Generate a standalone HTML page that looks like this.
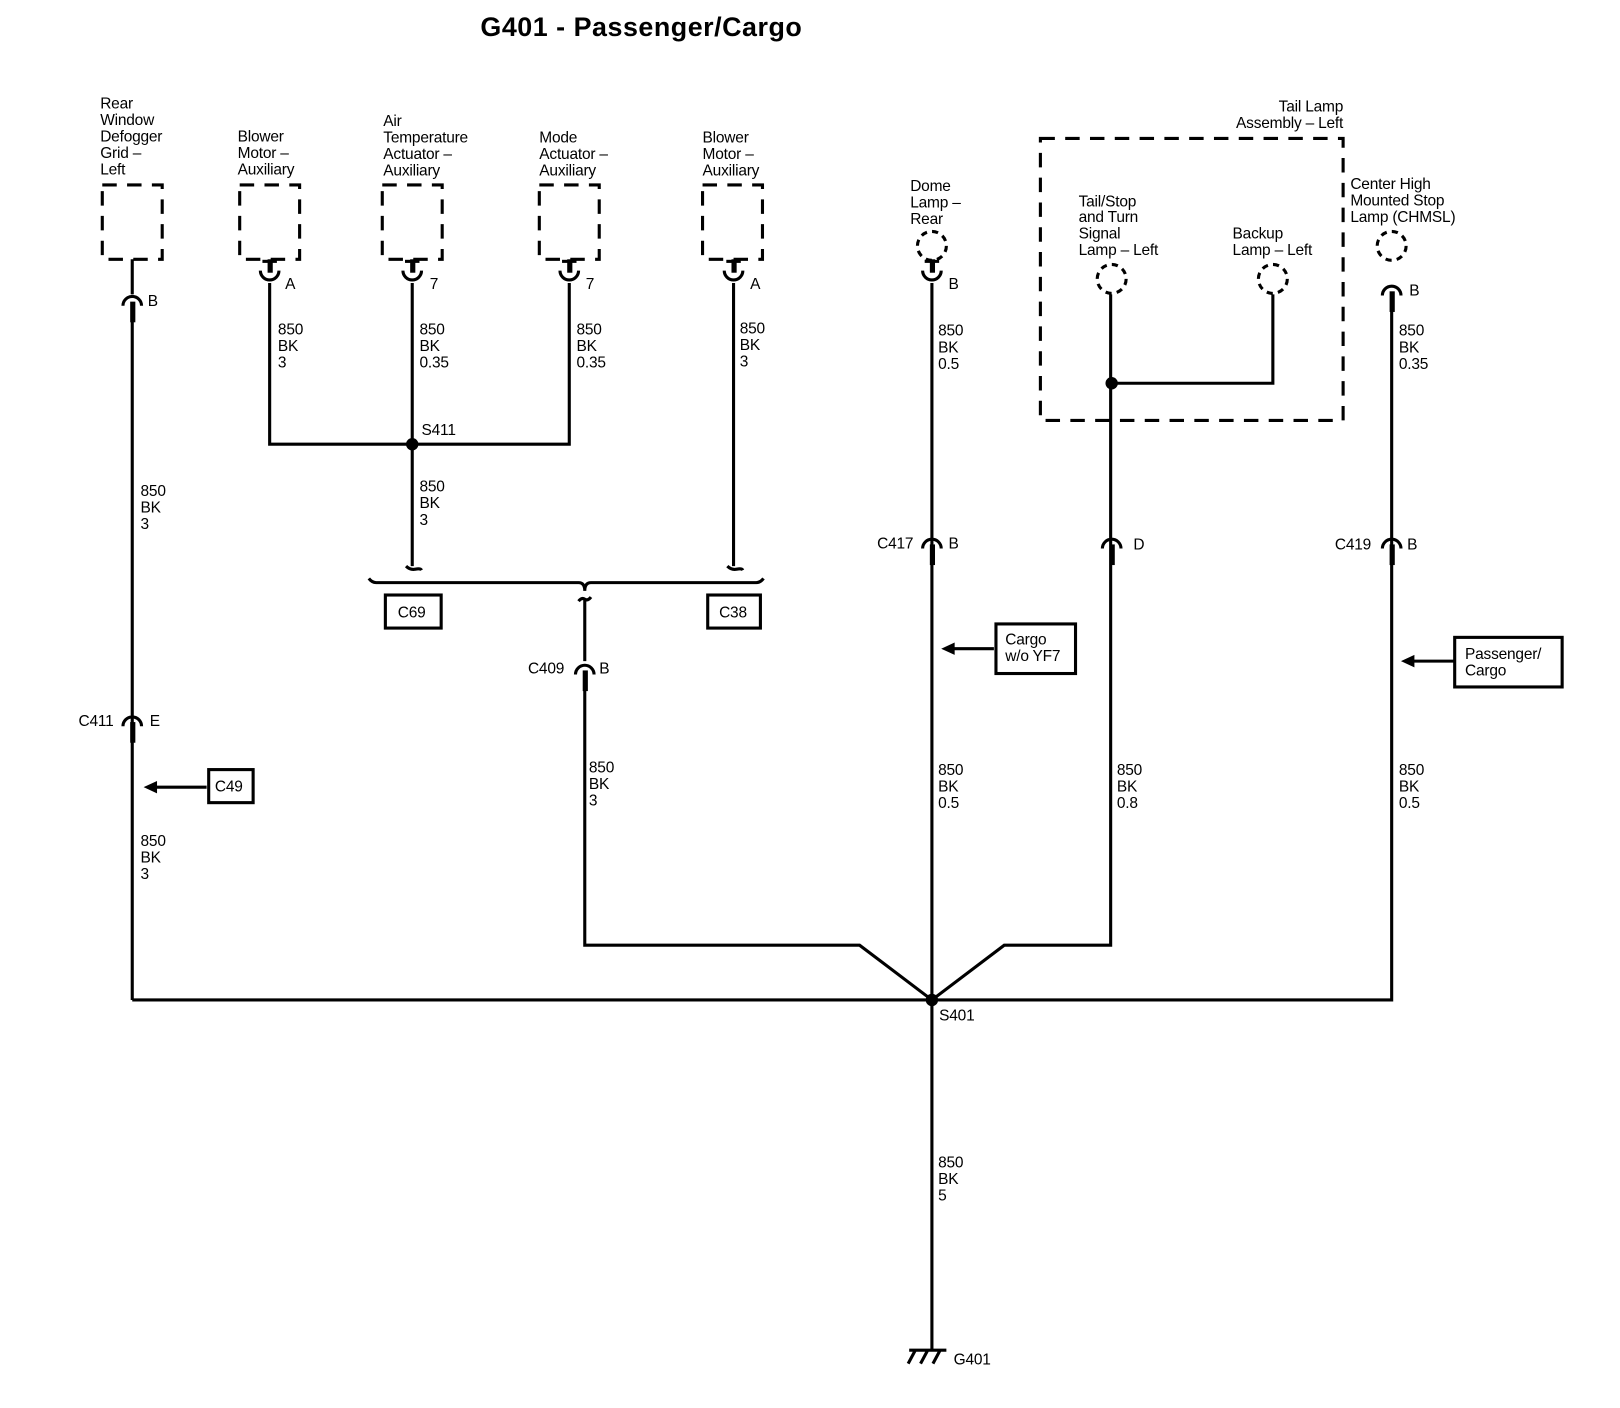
<!DOCTYPE html>
<html><head><meta charset="utf-8"><style>
html,body{margin:0;padding:0;background:#fff;}
svg{display:block;}
text{font-family:"Liberation Sans",sans-serif;font-size:15px;fill:#000;letter-spacing:-0.2px;}
.t{font-size:26px;font-weight:bold;letter-spacing:0.5px;}
</style></head><body>
<svg width="1620" height="1408" viewBox="0 0 1568 1363" preserveAspectRatio="none" xmlns="http://www.w3.org/2000/svg">
<g stroke="#000" stroke-width="3" fill="none">
<g stroke-dasharray="14,10">
<rect x="99" y="179" width="58" height="72"/>
<rect x="232" y="179" width="58" height="72"/>
<rect x="370" y="179" width="58" height="72"/>
<rect x="522" y="179" width="58" height="72"/>
<rect x="680" y="179" width="58" height="72"/>
<rect x="1007" y="134" width="293" height="273"/>
</g>
<g stroke-dasharray="6,5">
<circle cx="902" cy="238" r="14"/>
<circle cx="1076" cy="270" r="14"/>
<circle cx="1232" cy="270" r="14"/>
<circle cx="1347" cy="238" r="14"/>
</g>
<path d="M128 251V285M128 296V968"/>
<path d="M261 274V430H551V274M399 274V548M710 274V548"/>
<path d="M357 560Q360 564 364 564H560Q566 564 566 572Q566 564 572 564H732Q736 564 739 560"/>
<path d="M393 548Q397 552 402 551T408 552M704 548Q708 552 713 551T719 552"/>
<path d="M560 582Q563 578 566 580T572 578M566 580V640"/>
<path d="M566 655V915H832L902 968L972 915H1075V285"/>
<path d="M1076 371H1232V285"/>
<path d="M128 968H1347V286"/>
<path d="M902 274V1307"/>
<path d="M880 1307H916M886 1307L879 1320M898 1307L891 1320M910 1307L903 1320"/>
<g>
<path d="M252 262A9 9 0 0 0 270 262"/><path d="M254 253H268"/>
<path d="M390 262A9 9 0 0 0 408 262"/><path d="M392 253H406"/>
<path d="M542 262A9 9 0 0 0 560 262"/><path d="M544 253H558"/>
<path d="M701 262A9 9 0 0 0 719 262"/><path d="M703 253H717"/>
<path d="M893 262A9 9 0 0 0 911 262"/><path d="M895 253H909"/>
</g>
<g>
<path d="M119 296A9 9 0 0 1 137 296"/>
<path d="M119 703A9 9 0 0 1 137 703"/>
<path d="M557 653A9 9 0 0 1 575 653"/>
<path d="M893 531A9 9 0 0 1 911 531"/>
<path d="M1067 531A9 9 0 0 1 1085 531"/>
<path d="M1338 531A9 9 0 0 1 1356 531"/>
<path d="M1338 286A9 9 0 0 1 1356 286"/>
</g>
<rect x="373" y="576" width="54" height="32"/>
<rect x="685" y="576" width="51" height="32"/>
<rect x="202" y="745" width="43" height="32"/>
<rect x="964" y="604" width="77" height="48"/>
<rect x="1408" y="617" width="104" height="48"/>
<path d="M150 762H200M922 628H962M1367 640H1407"/>
</g>
<g fill="#000">
<rect x="259" y="251" width="5" height="13"/><rect x="397" y="251" width="5" height="13"/>
<rect x="549" y="251" width="5" height="13"/><rect x="708" y="251" width="5" height="13"/>
<rect x="900" y="251" width="5" height="13"/>
<rect x="126" y="292" width="5" height="20"/><rect x="126" y="699" width="5" height="20"/>
<rect x="564" y="649" width="5" height="20"/><rect x="900" y="527" width="5" height="20"/>
<rect x="1074" y="527" width="5" height="20"/><rect x="1345" y="527" width="5" height="20"/>
<rect x="1345" y="282" width="5" height="20"/>
<circle cx="399" cy="430" r="6"/><circle cx="902" cy="968" r="6"/><circle cx="1076" cy="371" r="6"/>
<path d="M139 762L152 756V768Z"/><path d="M911 628L924 622V634Z"/><path d="M1356 640L1369 634V646Z"/>
</g>
<text class="t" x="465" y="35">G401 - Passenger/Cargo</text>
<text x="97" y="105">Rear</text><text x="97" y="121">Window</text><text x="97" y="137">Defogger</text><text x="97" y="153">Grid –</text><text x="97" y="169">Left</text>
<text x="230" y="137">Blower</text><text x="230" y="153">Motor –</text><text x="230" y="169">Auxiliary</text>
<text x="371" y="122">Air</text><text x="371" y="138">Temperature</text><text x="371" y="154">Actuator –</text><text x="371" y="170">Auxiliary</text>
<text x="522" y="138">Mode</text><text x="522" y="154">Actuator –</text><text x="522" y="170">Auxiliary</text>
<text x="680" y="138">Blower</text><text x="680" y="154">Motor –</text><text x="680" y="170">Auxiliary</text>
<text x="881" y="185">Dome</text><text x="881" y="201">Lamp –</text><text x="881" y="217">Rear</text>
<text x="1300" y="108" text-anchor="end">Tail Lamp</text><text x="1300" y="124" text-anchor="end">Assembly – Left</text>
<text x="1044" y="200">Tail/Stop</text><text x="1044" y="215">and Turn</text><text x="1044" y="231">Signal</text><text x="1044" y="247">Lamp – Left</text>
<text x="1193" y="231">Backup</text><text x="1193" y="247">Lamp – Left</text>
<text x="1307" y="183">Center High</text><text x="1307" y="199">Mounted Stop</text><text x="1307" y="215">Lamp (CHMSL)</text>
<text x="143" y="296">B</text><text x="276" y="280">A</text><text x="416" y="280">7</text><text x="567" y="280">7</text><text x="726" y="280">A</text><text x="918" y="280">B</text><text x="1364" y="286">B</text>
<text x="269" y="324">850</text><text x="269" y="340">BK</text><text x="269" y="356">3</text>
<text x="406" y="324">850</text><text x="406" y="340">BK</text><text x="406" y="356">0.35</text>
<text x="558" y="324">850</text><text x="558" y="340">BK</text><text x="558" y="356">0.35</text>
<text x="716" y="323">850</text><text x="716" y="339">BK</text><text x="716" y="355">3</text>
<text x="908" y="325">850</text><text x="908" y="341">BK</text><text x="908" y="357">0.5</text>
<text x="1354" y="325">850</text><text x="1354" y="341">BK</text><text x="1354" y="357">0.35</text>
<text x="408" y="421">S411</text>
<text x="406" y="476">850</text><text x="406" y="492">BK</text><text x="406" y="508">3</text>
<text x="136" y="480">850</text><text x="136" y="496">BK</text><text x="136" y="512">3</text>
<text x="849" y="531">C417</text><text x="918" y="531">B</text>
<text x="1097" y="532">D</text>
<text x="1292" y="532">C419</text><text x="1362" y="532">B</text>
<text x="385" y="598">C69</text><text x="696" y="598">C38</text>
<text x="511" y="652">C409</text><text x="580" y="652">B</text>
<text x="973" y="624">Cargo</text><text x="973" y="640">w/o YF7</text>
<text x="1418" y="638">Passenger/</text><text x="1418" y="654">Cargo</text>
<text x="76" y="703">C411</text><text x="145" y="703">E</text>
<text x="208" y="766">C49</text>
<text x="570" y="748">850</text><text x="570" y="764">BK</text><text x="570" y="780">3</text>
<text x="908" y="750">850</text><text x="908" y="766">BK</text><text x="908" y="782">0.5</text>
<text x="1081" y="750">850</text><text x="1081" y="766">BK</text><text x="1081" y="782">0.8</text>
<text x="1354" y="750">850</text><text x="1354" y="766">BK</text><text x="1354" y="782">0.5</text>
<text x="136" y="819">850</text><text x="136" y="835">BK</text><text x="136" y="851">3</text>
<text x="909" y="988">S401</text>
<text x="908" y="1130">850</text><text x="908" y="1146">BK</text><text x="908" y="1162">5</text>
<text x="923" y="1321">G401</text>
</svg>
</body></html>
